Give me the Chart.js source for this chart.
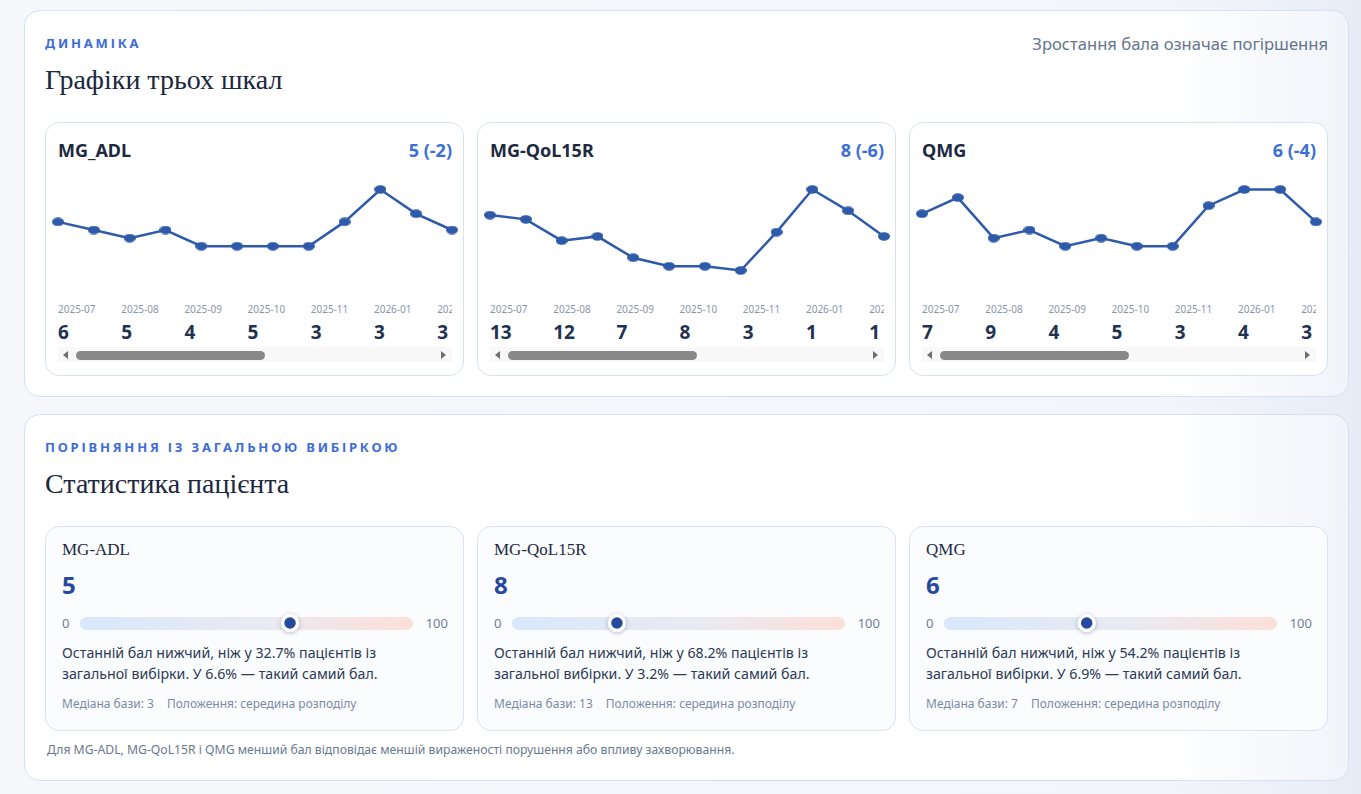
<!DOCTYPE html>
<html lang="uk">
<head>
<meta charset="utf-8">
<title>Динаміка шкал</title>
<script src="https://cdn.jsdelivr.net/npm/chart.js@4.4.1/dist/chart.umd.min.js"></script>
<style>
* { box-sizing: border-box; }
html, body { margin: 0; }
body {
  width: 1361px; height: 794px; overflow: hidden;
  background: linear-gradient(90deg, #f5f7fb 0%, #f3f5fa 86%, #e7ecf6 100%);
  font-family: "Noto Sans", sans-serif; color: #1e2a44;
}
.panel {
  position: relative; margin-left: 24px; width: 1325px;
  background: linear-gradient(90deg, #fff 0%, #fff 86%, #f1f4fa 100%);
  border: 1px solid #d7e1f1; border-radius: 16px;
  padding: 24px 20px 20px 20px;
}
#p1 { margin-top: 10px; height: 387px; }
#p2 { margin-top: 17px; height: 367px; }
.eyebrow { font-size: 13px; line-height: 16px; font-weight: 700; letter-spacing: 2.8px; color: #3e6cd6; }
h2 { margin: 12px 0 0; font-family: "Liberation Serif", serif; font-weight: 400; font-size: 28px; line-height: 34px; color: #1c2740; }
.note { position: absolute; right: 20px; top: 22px; font-size: 16.6px; line-height: 22px; color: #66758d; }
.grid { display: grid; grid-template-columns: repeat(3, 419px); column-gap: 13px; margin-top: 25px; }

.ccard { border: 1px solid #d9e2f1; border-radius: 14px; background: #fff; padding: 15px 11px 13px 12px; }
.chead { display: flex; justify-content: space-between; font-weight: 700; font-size: 18px; line-height: 24px; color: #1d2940; }
.chead .cur { color: #3b6fd6; }
.cwrap { position: relative; height: 120px; margin: 8px -11px 0 -12px; }
.strip { margin-top: 12px; overflow: hidden; padding-bottom: 3px; display: flex; }
.col { flex: 0 0 63.2px; }
.col .d { font-size: 10px; line-height: 14px; color: #8a95a8; white-space: nowrap; }
.col .v { font-size: 19px; line-height: 24px; font-weight: 700; color: #22324f; margin-top: 4px; }
.sbar { position: relative; height: 15px; background: #f8f8f8; }
.sbar .thumb { position: absolute; left: 18px; top: 4px; height: 9px; border-radius: 4.5px; background: #888; }
.sbar .al, .sbar .ar { position: absolute; top: 4px; width: 0; height: 0; border-top: 4px solid transparent; border-bottom: 4px solid transparent; }
.sbar .al { left: 5px; border-right: 5px solid #6e6e6e; }
.sbar .ar { right: 6px; border-left: 5px solid #6e6e6e; }

.scard { border: 1px solid #dae3f2; border-radius: 14px; background: #fbfcfe; padding: 12px 15px 16px 16px; height: 205px; }
.sname { font-family: "Liberation Serif", serif; font-size: 17px; line-height: 22px; color: #1e2a44; }
.sval { font-size: 24px; font-weight: 700; line-height: 30px; color: #26499b; margin-top: 9px; }
.srow { display: flex; align-items: center; margin-top: 11px; height: 24px; font-size: 13px; color: #6e7d95; }
.srow .lo { width: 18px; }
.srow .hi { width: 35px; text-align: right; }
.track { position: relative; flex: 1; height: 24px; }
.track .bar { position: absolute; left: 0; right: 0; top: 5.5px; height: 13px; border-radius: 7px;
  background: linear-gradient(90deg, #d9e8fb 0%, #e8eaf2 55%, #fde0d8 100%); }
.track .cv { position: absolute; left: 0; top: 0; width: 100%; height: 24px; filter: drop-shadow(0 1px 2px rgba(20,40,90,.3)); }
.stext { font-size: 14.2px; line-height: 21px; margin-top: 7px; color: #2c3a55; }
.smeta { font-size: 12px; line-height: 18px; margin-top: 11px; color: #7b8aa4; }
.smeta span { margin-right: 13px; }
.foot { font-size: 12.2px; line-height: 18px; color: #6b7890; margin-top: 10px; padding-left: 2px; }
</style>
</head>
<body>

<div class="panel" id="p1">
  <div class="eyebrow">ДИНАМІКА</div>
  <h2>Графіки трьох шкал</h2>
  <div class="note">Зростання бала означає погіршення</div>
  <div class="grid" id="charts"></div>
</div>

<div class="panel" id="p2">
  <div class="eyebrow">ПОРІВНЯННЯ ІЗ ЗАГАЛЬНОЮ ВИБІРКОЮ</div>
  <h2>Статистика пацієнта</h2>
  <div class="grid" id="stats"></div>
  <div class="foot">Для MG-ADL, MG-QoL15R і QMG менший бал відповідає меншій вираженості порушення або впливу захворювання.</div>
</div>

<script>
// дати візитів (однакові для всіх шкал)
const dates = ['2025-07', '2025-08', '2025-09', '2025-10', '2025-11', '2026-01',
               '2026-02', '2026-02', '2026-03', '2026-03', '2026-04', '2026-04'];

// бали по шкалах
const chartNames = ['MG_ADL', 'MG-QoL15R', 'QMG'];
const adlScores = [6, 5, 4, 5, 3, 3, 3, 3, 6, 10, 7, 5];
const qolScores = [13, 12, 7, 8, 3, 1, 1, 0, 9, 19, 14, 8];
const qmgScores = [7, 9, 4, 5, 3, 4, 3, 3, 8, 10, 10, 6];

// порівняння із загальною вибіркою
const statNames = ['MG-ADL', 'MG-QoL15R', 'QMG'];
const lowerPct = [32.7, 68.2, 54.2];
const samePct = [6.6, 3.2, 6.9];
const baseMedian = [3, 13, 7];

const lineColor = '#2e5aa9';

// точка-еліпс (як у розтягнутому графіку)
function makeDot() {
  const c = document.createElement('canvas');
  c.width = 12; c.height = 9;
  const ctx = c.getContext('2d');
  ctx.fillStyle = lineColor;
  ctx.beginPath();
  ctx.ellipse(6, 4.5, 6, 4.2, 0, 0, Math.PI * 2);
  ctx.fill();
  return c;
}
const dot = makeDot();

const allScores = [adlScores, qolScores, qmgScores];
const chartsBox = document.getElementById('charts');

allScores.forEach((vals, i) => {
  const last = vals[vals.length - 1];
  const diff = last - vals[vals.length - 2];
  const card = document.createElement('div');
  card.className = 'ccard';
  card.innerHTML =
    '<div class="chead"><span>' + chartNames[i] + '</span><span class="cur">' + last + ' (' + diff + ')</span></div>' +
    '<div class="cwrap"><canvas></canvas></div><div class="strip"></div>' +
    '<div class="sbar"><span class="al"></span><span class="thumb"></span><span class="ar"></span></div>';
  chartsBox.appendChild(card);

  const strip = card.querySelector('.strip');
  dates.forEach((d, k) => {
    const col = document.createElement('div');
    col.className = 'col';
    col.innerHTML = '<div class="d">' + d + '</div><div class="v">' + vals[k] + '</div>';
    strip.appendChild(col);
  });
  // смуга прокрутки: довжина повзунка за видимою часткою рядка
  const ratio = strip.clientWidth / strip.scrollWidth;
  card.querySelector('.thumb').style.width = (ratio * (strip.clientWidth - 30)) + 'px';

  new Chart(card.querySelector('canvas'), {
    type: 'line',
    data: {
      labels: dates,
      datasets: [{
        data: vals,
        borderColor: lineColor,
        borderWidth: 2.5,
        pointStyle: dot,
        pointRadius: 5,
        tension: 0,
        clip: false
      }]
    },
    options: {
      responsive: true,
      maintainAspectRatio: false,
      animation: false,
      layout: { padding: { left: 12, right: 11, top: 19.5, bottom: 19.5 } },
      plugins: { legend: { display: false }, tooltip: { enabled: false } },
      scales: {
        x: { display: false, offset: false },
        y: { display: false, min: 0, max: Math.max(...vals) }
      }
    }
  });
});

// картки статистики
const statsBox = document.getElementById('stats');
statNames.forEach((name, i) => {
  const pos = 100 - lowerPct[i] - samePct[i] / 2;
  const card = document.createElement('div');
  card.className = 'scard';
  card.innerHTML =
    '<div class="sname">' + name + '</div>' +
    '<div class="sval">' + allScores[i][allScores[i].length - 1] + '</div>' +
    '<div class="srow"><span class="lo">0</span><div class="track"><div class="bar"></div><canvas class="cv"></canvas></div><span class="hi">100</span></div>' +
    '<div class="stext">Останній бал нижчий, ніж у ' + lowerPct[i] + '% пацієнтів із<br>загальної вибірки. У ' + samePct[i] + '% — такий самий бал.</div>' +
    '<div class="smeta"><span>Медіана бази: ' + baseMedian[i] + '</span><span>Положення: середина розподілу</span></div>';
  statsBox.appendChild(card);

  new Chart(card.querySelector('canvas'), {
    type: 'scatter',
    data: {
      datasets: [{
        data: [{ x: pos, y: 0 }],
        pointRadius: 7.5,
        pointBorderWidth: 3.5,
        pointBackgroundColor: '#26499b',
        pointBorderColor: '#ffffff',
        clip: false
      }]
    },
    options: {
      responsive: true,
      maintainAspectRatio: false,
      animation: false,
      layout: { padding: 0 },
      plugins: { legend: { display: false }, tooltip: { enabled: false } },
      scales: {
        x: { display: false, min: 0, max: 100 },
        y: { display: false, min: -1, max: 1 }
      }
    }
  });
});
</script>
</body>
</html>
